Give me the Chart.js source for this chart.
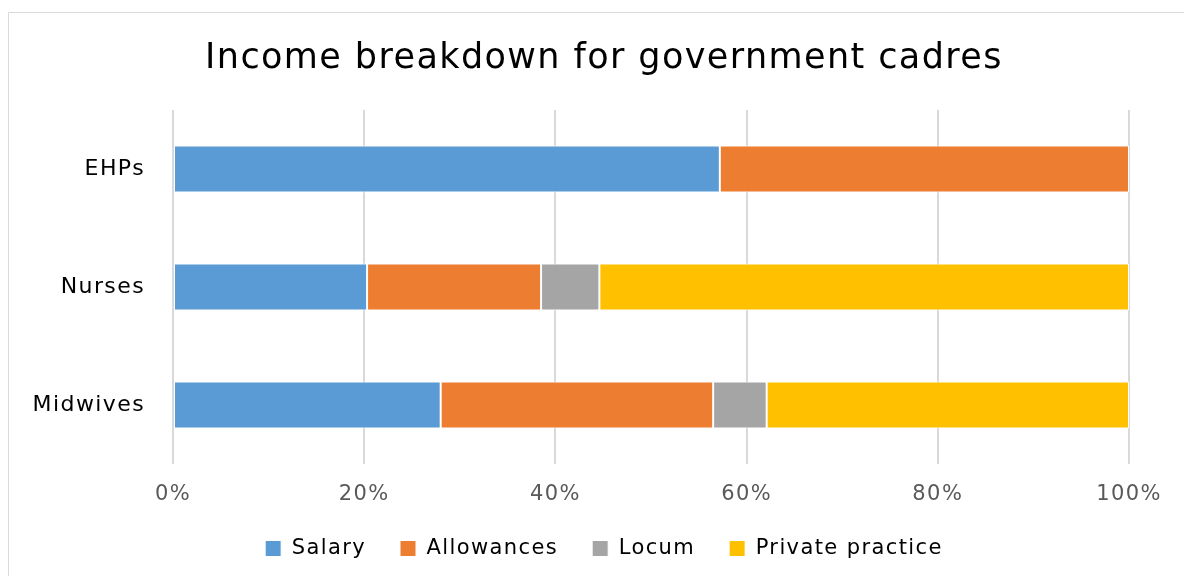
<!DOCTYPE html>
<html>
<head>
<meta charset="utf-8">
<title>Income breakdown for government cadres</title>
<script src="https://cdn.jsdelivr.net/npm/chart.js@4/dist/chart.umd.min.js"></script>
<style>
    html, body { margin: 0; padding: 0; background: #fff; overflow: hidden; }
    #wrap { width: 1184px; height: 576px; }
</style>
</head>
<body>
<div id="wrap"><canvas id="incomeChart" width="1184" height="576"></canvas></div>
<script>
const cadres = ['EHPs', 'Nurses', 'Midwives'];
const salary = [57.2, 20.3, 28.0];
const allowances = [42.8, 18.2, 28.5];
const locum = [0, 6.1, 5.6];
const privatePractice = [0, 55.4, 37.9];
const xTicks = [0, 20, 40, 60, 80, 100];

const FONT = "'DejaVu Sans', 'Open Sans', sans-serif";

// wider text tracking, set before layout so measured widths include it
const spacingPlugin = {
    id: 'spacing',
    beforeUpdate(chart) {
        chart.ctx.letterSpacing = '1.4px';
    },
    beforeDraw(chart) {
        chart.ctx.letterSpacing = '1.4px';
    }
};

// thin grey frame along the top and left of the chart
const framePlugin = {
    id: 'frame',
    beforeDraw(chart) {
        const ctx = chart.ctx;
        ctx.save();
        ctx.fillStyle = '#fff';
        ctx.fillRect(0, 0, chart.width, chart.height);
        ctx.strokeStyle = '#d9d9d9';
        ctx.lineWidth = 1;
        ctx.beginPath();
        ctx.moveTo(8.5, chart.height);
        ctx.lineTo(8.5, 12.5);
        ctx.lineTo(chart.width, 12.5);
        ctx.stroke();
        ctx.restore();
    }
};

function makeSet(label, data, color) {
    return {
        label: label,
        data: data,
        backgroundColor: color,
        borderColor: '#ffffff',
        borderWidth: 1,
        borderSkipped: false,
        categoryPercentage: 1,
        barPercentage: 0.4
    };
}

const ctx = document.getElementById('incomeChart').getContext('2d');
new Chart(ctx, {
    type: 'bar',
    data: {
        labels: cadres,
        datasets: [
            makeSet('Salary', salary, '#5b9bd5'),
            makeSet('Allowances', allowances, '#ed7d31'),
            makeSet('Locum', locum, '#a5a5a5'),
            makeSet('Private practice', privatePractice, '#ffc000')
        ]
    },
    options: {
        indexAxis: 'y',
        responsive: false,
        animation: false,
        layout: {
            padding: { left: 24, right: 0, top: 0, bottom: 7 }
        },
        plugins: {
            title: {
                display: true,
                text: 'Income breakdown for government cadres',
                color: '#000',
                font: { family: FONT, size: 35, weight: 'normal' },
                padding: { top: 38, bottom: 30 }
            },
            legend: {
                display: true,
                position: 'bottom',
                labels: {
                    color: '#000',
                    font: { family: FONT, size: 21 },
                    boxWidth: 16,
                    boxHeight: 16,
                    padding: 34
                }
            },
            tooltip: { enabled: false }
        },
        scales: {
            x: {
                stacked: true,
                min: 0,
                max: 100,
                afterBuildTicks(scale) {
                    scale.ticks = xTicks.map(v => ({ value: v }));
                },
                afterFit(scale) {
                    scale.height = 40;
                    scale.paddingRight = 55;
                },
                ticks: {
                    color: '#595959',
                    font: { family: FONT, size: 21 },
                    padding: 18,
                    callback: v => v + '%'
                },
                grid: {
                    color: '#d9d9d9',
                    lineWidth: 2,
                    drawTicks: false
                },
                border: { display: false }
            },
            y: {
                stacked: true,
                afterFit(scale) {
                    scale.width = 149;
                },
                ticks: {
                    color: '#000',
                    font: { family: FONT, size: 22 },
                    padding: 20
                },
                grid: { display: false },
                border: { display: false }
            }
        }
    },
    plugins: [spacingPlugin, framePlugin]
});
</script>
</body>
</html>
